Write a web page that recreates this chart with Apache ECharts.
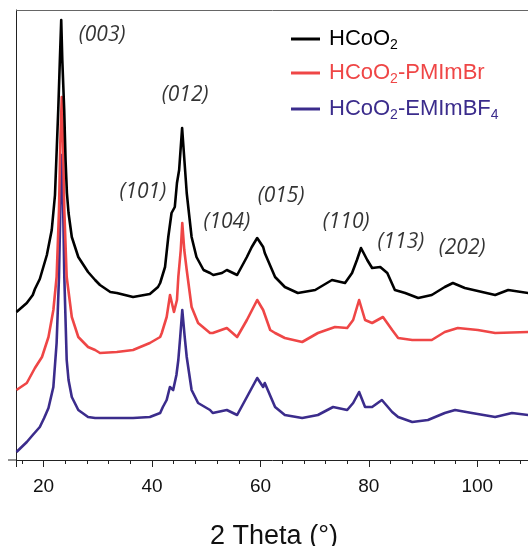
<!DOCTYPE html>
<html>
<head>
<meta charset="utf-8">
<script src="https://cdn.jsdelivr.net/npm/echarts@6/dist/echarts.min.js"></script>
<style>
html,body{margin:0;padding:0;background:#fff;}
#c{width:528px;height:546px;}
</style>
</head>
<body>
<div id="c"></div>
<script>
// ---- data (2θ in degrees, intensity in arbitrary offset units) ----
const seriesNames = ['HCoO2', 'HCoO2-PMImBr', 'HCoO2-EMImBF4'];

const blackData = [
  [15.0,148],[16.9,157],[18.0,165],[18.4,171],[19.3,181],[20.6,205],[21.5,230],[22.1,265],
  [22.7,350],[23.0,400],[23.25,440],[23.45,400],[23.8,350],[24.05,300],[24.3,267],[24.6,247],
  [25.2,223],[26.4,203],[28.2,188],[29.5,180],[30.4,175],[32.3,168],[33.5,167],[36.5,163],
  [39.6,166],[41.1,173],[41.5,177],[42.4,193],[43.0,223],[43.6,247],[44.2,253],[44.6,277],
  [45.0,290],[45.55,332],[46.4,267],[47.3,223],[48.2,203],[49.5,190],[50.7,187],[51.3,185],
  [52.9,187],[53.8,190],[55.7,185],[57.5,203],[58.4,213],[59.4,222],[60.5,213],[60.8,207],
  [62.7,183],[64.5,173],[66.9,167],[70.1,170],[73.2,180],[75.6,177],[76.9,187],[77.8,200],
  [78.55,212],[79.7,200],[80.6,192],[82.1,193],[83.4,187],[84.8,170],[86.7,167],[89.1,162],
  [91.6,165],[94.0,173],[95.5,177],[97.7,172],[100.9,168],[103.3,165],[105.7,170],[109.4,167]
];

const redData = [
  [15.0,70],[16.9,77],[18.0,88],[18.4,92],[19.7,103],[20.9,123],[21.8,150],[22.4,183],
  [22.84,250],[23.08,317],[23.35,363],[23.58,317],[23.82,250],[24.26,183],[25.2,143],[26.4,123],
  [28.2,113],[29.5,110],[30.4,107],[33.5,108],[36.5,110],[39.6,117],[41.5,123],[41.8,127],
  [42.7,143],[43.32,165],[44.05,148],[44.6,160],[44.85,183],[45.3,210],[45.58,237],[45.95,210],
  [46.4,190],[47.3,153],[48.5,137],[50.7,127],[51.2,127],[53.8,132],[55.7,123],[57.5,140],
  [59.4,160],[60.5,150],[61.8,130],[62.7,127],[64.5,122],[67.7,118],[70.6,127],[73.75,133],
  [76.0,132],[77.1,140],[78.2,160],[79.3,140],[80.6,137],[82.6,143],[84.3,130],[85.4,122],
  [88.0,120],[91.6,120],[94.0,128],[96.4,132],[100.1,130],[103.3,127],[109.4,128]
];

const blueData = [
  [15.0,8],[16.9,18],[18.0,25],[19.3,33],[20.1,42],[20.9,52],[21.8,73],[22.4,117],
  [22.84,183],[23.1,255],[23.35,305],[23.6,255],[23.82,183],[24.26,100],[24.6,80],[25.2,63],
  [26.4,50],[28.2,43],[29.5,42],[33.5,42],[36.5,42],[39.6,43],[41.5,47],[42.0,53],
  [42.7,60],[43.3,73],[43.9,70],[44.5,85],[44.85,100],[45.2,123],[45.58,150],[46.03,123],
  [46.4,103],[47.3,70],[48.5,57],[50.7,50],[51.2,47],[53.8,50],[55.7,45],[57.5,63],
  [59.4,82],[60.5,73],[60.8,77],[62.7,53],[64.5,45],[67.7,42],[70.6,45],[73.4,53],
  [76.0,50],[77.1,57],[78.2,68],[79.3,53],[80.6,53],[82.4,60],[84.3,48],[85.4,43],
  [88.0,38],[90.9,40],[94.0,47],[95.9,50],[99.0,47],[103.3,43],[106.4,47],[109.4,45]
];

// Miller-index annotations: [label, 2θ, intensity]
const hklLabels = [
  ['(003)', 30.8, 425], ['(012)', 46.1, 365], ['(101)', 38.3, 268], ['(104)', 53.8, 238],
  ['(015)', 63.8, 264], ['(110)', 75.8, 238], ['(113)', 85.9, 218], ['(202)', 97.2, 212]
];

// axis ranges / tick steps
const xMin = 15, xMax = 110;
const majorMin = 20, majorMax = 120, majorStep = 20;
const minorMin = 16, minorMax = 112, minorStep = 4;
const yMin = 0, yMax = 450;

const colors = ['#000000', '#EF4646', '#3B2C8C'];

// ---- chart ----
const chart = echarts.init(document.getElementById('c'), null, {renderer: 'canvas'});

const PX = 5.421;           // pixels per degree
const gLeft = 16.5, gTop = 10, gH = 450;
const font = 'Liberation Sans, Arial, sans-serif';

const richFor = (c) => ({
  a: {fontSize: 22, color: c, fontFamily: font},
  s: {fontSize: 14, color: c, fontFamily: font, padding: [12, 0, 0, 0]}
});
const legendFmt = {
  'HCoO2': '{a|HCoO}{s|2}',
  'HCoO2-PMImBr': '{a|HCoO}{s|2}{a|-PMImBr}',
  'HCoO2-EMImBF4': '{a|HCoO}{s|2}{a|-EMImBF}{s|4}'
};
const legendTops = [23, 57, 93];

const hiddenY = (gi) => ({gridIndex: gi, type: 'value', min: yMin, max: yMax, show: false});
const gridBox = (from, to) => ({
  left: gLeft + (from - xMin) * PX, top: gTop, width: (to - from) * PX, height: gH,
  outerBoundsMode: 'none', containLabel: false
});

const option = {
  animation: false,
  grid: [
    gridBox(xMin, xMax),
    gridBox(majorMin, majorMax),
    gridBox(minorMin, minorMax)
  ],
  xAxis: [
    { // main data axis
      gridIndex: 0, type: 'value', min: xMin, max: xMax, position: 'bottom',
      axisLine: {show: true, lineStyle: {color: '#222', width: 1}},
      axisTick: {show: false}, axisLabel: {show: false}, splitLine: {show: false},
      name: '2 Theta (°)', nameLocation: 'middle', nameGap: 63,
      nameTextStyle: {fontSize: 27, color: '#111', fontFamily: font}
    },
    { // top frame line
      gridIndex: 0, type: 'value', min: xMin, max: xMax, position: 'top',
      axisLine: {show: true, lineStyle: {color: '#666', width: 1}},
      axisTick: {show: false}, axisLabel: {show: false}, splitLine: {show: false}
    },
    { // major ticks + labels
      gridIndex: 1, type: 'value', min: majorMin, max: majorMax, interval: majorStep,
      axisLine: {show: false},
      axisTick: {show: true, length: 7, lineStyle: {color: '#222'}},
      axisLabel: {show: true, fontSize: 19, color: '#111', fontFamily: font, margin: 17},
      splitLine: {show: false}
    },
    { // minor ticks
      gridIndex: 2, type: 'value', min: minorMin, max: minorMax, interval: minorStep,
      axisLine: {show: false},
      axisTick: {show: true, length: 4, lineStyle: {color: '#222'}},
      axisLabel: {show: false}, splitLine: {show: false}
    }
  ],
  yAxis: [
    {
      gridIndex: 0, type: 'value', min: yMin, max: yMax,
      axisLine: {show: true, lineStyle: {color: '#222', width: 1}},
      axisTick: {show: false}, axisLabel: {show: false}, splitLine: {show: false}
    },
    hiddenY(1), hiddenY(2)
  ],
  legend: seriesNames.map((n, i) => ({
    data: [{name: n}],
    orient: 'vertical', left: 286, top: legendTops[i],
    icon: 'rect', itemWidth: 29, itemHeight: 3,
    formatter: (name) => legendFmt[name],
    textStyle: {color: colors[i], padding: [0, 0, 0, 4], rich: richFor(colors[i])},
    selectedMode: false
  })),
  series: [
    ...seriesNames.map((n, i) => ({
      name: n, type: 'line', xAxisIndex: 0, yAxisIndex: 0,
      data: [blackData, redData, blueData][i],
      showSymbol: false, symbol: 'none',
      lineStyle: {color: colors[i], width: 2.6, join: 'round'},
      itemStyle: {color: colors[i]},
      z: 3 + (2 - i)
    })),
    {
      type: 'scatter', xAxisIndex: 0, yAxisIndex: 0, symbolSize: 0,
      data: hklLabels.map(d => ({name: d[0], value: [d[1], d[2]]})),
      label: {show: true, position: 'inside', formatter: p => p.name,
              fontSize: 21, fontStyle: 'italic', color: '#000',
              fontFamily: 'Open Sans, sans-serif'},
      silent: true, z: 10
    }
  ],
  graphic: [
    {type: 'line', shape: {x1: 8, y1: 460, x2: 17, y2: 460}, style: {stroke: '#222', lineWidth: 1}},
    {type: 'line', shape: {x1: 16.5, y1: 460, x2: 16.5, y2: 467}, style: {stroke: '#222', lineWidth: 1}}
  ]
};
chart.setOption(option);
</script>
</body>
</html>
